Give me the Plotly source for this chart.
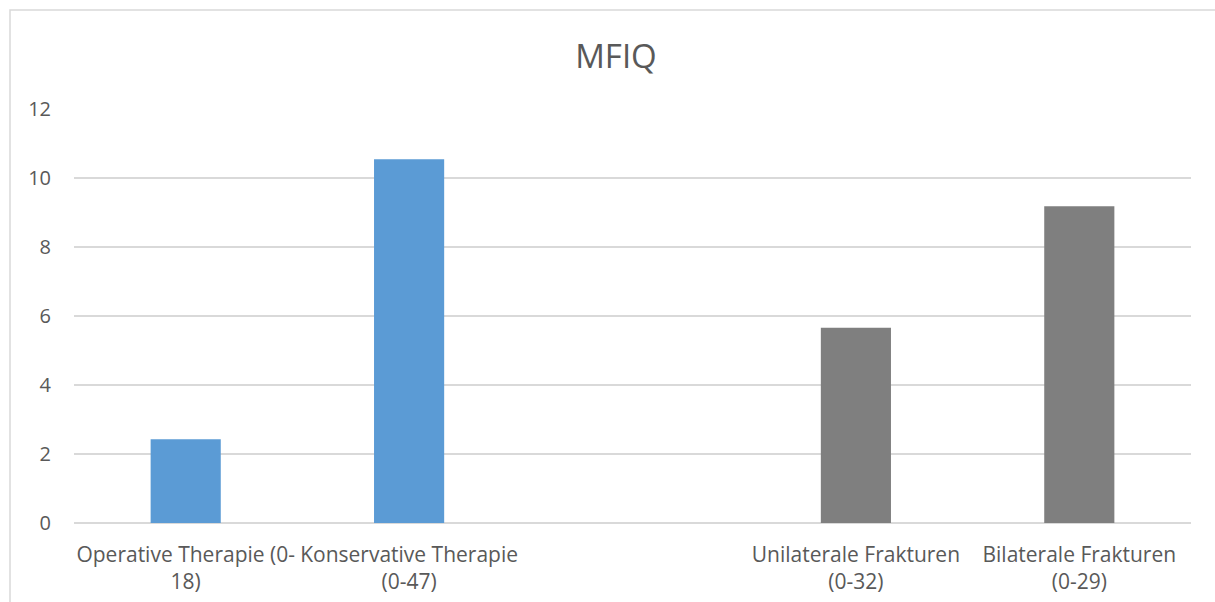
import plotly.graph_objects as go

# MFIQ scores by group (score range in brackets)
categories = [
    "Operative Therapie (0-<br>18)",
    "Konservative Therapie<br>(0-47)",
    " ",
    "Unilaterale Frakturen<br>(0-32)",
    "Bilaterale Frakturen<br>(0-29)",
]
values = [2.43, 10.54, None, 5.66, 9.18]
bar_colors = ["#5B9BD5", "#5B9BD5", "#5B9BD5", "#7F7F7F", "#7F7F7F"]
y_ticks = [0, 2, 4, 6, 8, 10, 12]

W, H = 1215, 602
L, R, T, B = 74, 24, 109, 79

fig = go.Figure(
    go.Bar(
        x=categories,
        y=values,
        marker=dict(color=bar_colors, line=dict(width=0)),
        hoverinfo="x+y",
    )
)

text_color = "#595959"
grid_color = "#D9D9D9"

fig.update_layout(
    width=W,
    height=H,
    margin=dict(l=L, r=R, t=T, b=B, autoexpand=False),
    paper_bgcolor="white",
    plot_bgcolor="white",
    bargap=0.686,
    showlegend=False,
    font=dict(family="Open Sans", color=text_color),
    title=dict(
        text="MFIQ",
        x=616 / W,
        xref="container",
        y=1 - 56 / H,
        yref="container",
        yanchor="middle",
        xanchor="center",
        font=dict(family="Open Sans", size=33, color=text_color),
    ),
    xaxis=dict(
        type="category",
        automargin=False,
        showgrid=False,
        showline=False,
        zeroline=False,
        ticks="",
        tickfont=dict(size=21, color=text_color),
        ticklabelstandoff=17,
        tickangle=0,
    ),
    yaxis=dict(
        range=[0, 12],
        automargin=False,
        tickvals=y_ticks,
        showgrid=True,
        gridcolor=grid_color,
        gridwidth=1.5,
        zeroline=True,
        zerolinecolor=grid_color,
        zerolinewidth=1.5,
        showline=False,
        ticks="",
        tickfont=dict(size=20, color=text_color),
        ticklabelstandoff=22,
    ),
)

# outer chart frame (extends past the right and bottom edges of the page)
pw = W - L - R
ph = H - T - B
fig.add_shape(
    type="rect",
    xref="paper",
    yref="paper",
    x0=(10 - L) / pw,
    x1=(W + 5 - L) / pw,
    y0=-(H + 5 - T - ph) / ph,
    y1=1 + (T - 10) / ph,
    line=dict(color=grid_color, width=1.5),
    fillcolor="rgba(0,0,0,0)",
    layer="below",
)

fig.write_html("out.html")
